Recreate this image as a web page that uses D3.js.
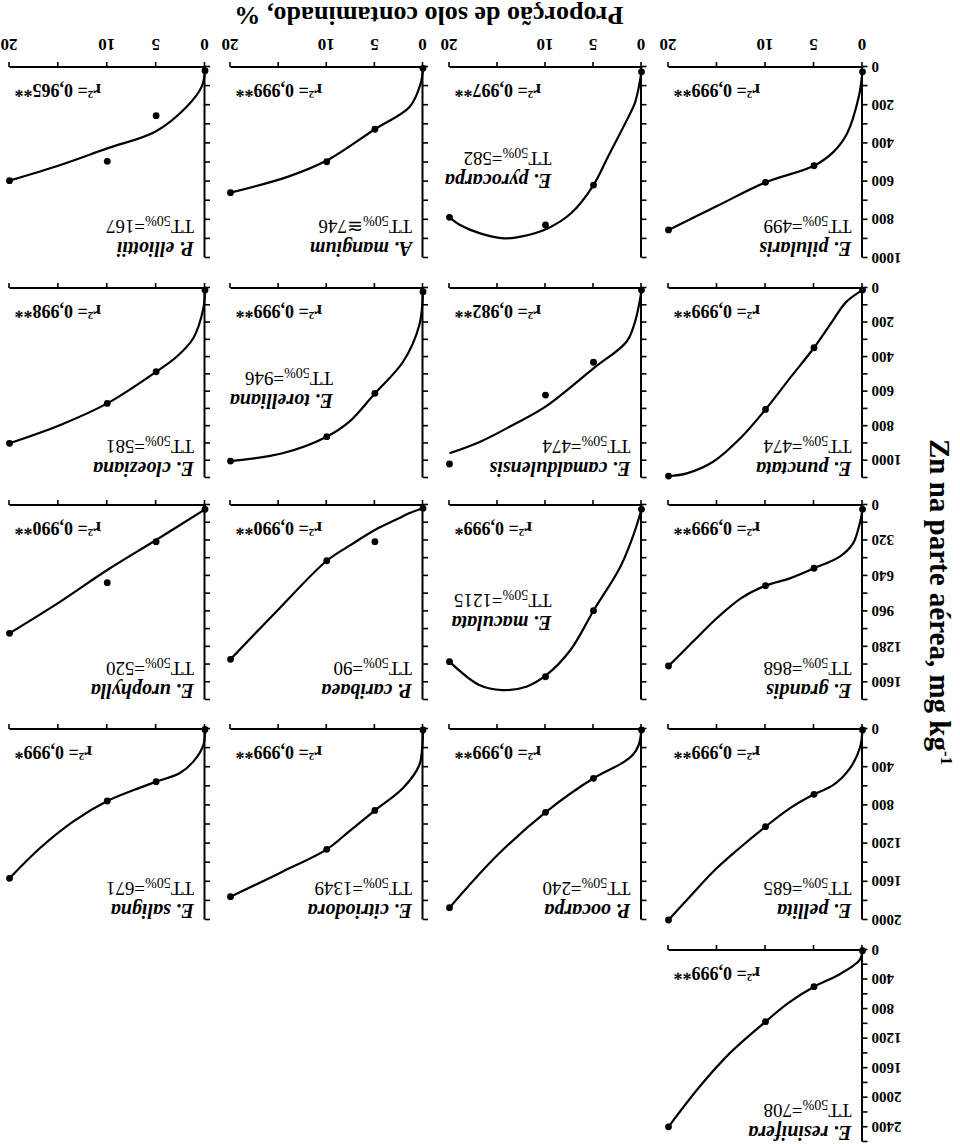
<!DOCTYPE html>
<html>
<head>
<meta charset="utf-8">
<script src="https://cdn.jsdelivr.net/npm/d3@7"></script>
<style>
body{margin:0;background:#fff}
svg{display:block}
.axis path,.axis line{stroke:#000}
.axis path{stroke-width:2}
.axis line{stroke-width:1.6}
text{font-family:"Liberation Serif","Times New Roman",serif;fill:#000}
</style>
</head>
<body>
<script>
// doses of contaminated soil (%) and the x tick labels
let doses = [0, 5, 10, 20]
let xTicks = [0, 5, 10, 15, 20]

let species = ["E. resinifera",
  "E. pellita", "P. oocarpa", "E. citriodora", "E. saligna",
  "E. grandis", "E. maculata", "P. caribaea", "E. urophylla",
  "E. punctata", "E. camaldulensis", "E. torelliana", "E. cloeziana",
  "E. pilularis", "E. pyrocarpa", "A. mangium", "P. elliottii"]

let tt50 = ["=708",
  "=685", "=240", "=1349", "=671",
  "=868", "=1215", "=90", "=520",
  "=474", "=474", "=946", "=581",
  "=499", "=582", "\u2245746", "=167"]

let r2 = ["0,999**",
  "0,999**", "0,999**", "0,999**", "0,999*",
  "0,999**", "0,999*", "0,990**", "0,990**",
  "0,999**", "0,982**", "0,999**", "0,998**",
  "0,999**", "0,997**", "0,999**", "0,965**"]

// Zn in shoots (mg/kg) at the four doses
let zn = [[9, 497, 971, 2394],
  [10, 684, 1023, 2000], [10, 516, 872, 1871], [10, 853, 1260, 1756], [5, 552, 754, 1564],
  [39, 571, 728, 1453], [39, 954, 1550, 1414], [30, 331, 503, 1393], [39, 331, 701, 1158],
  [12, 346, 703, 1089], [12, 430, 620, 1019], [21, 610, 861, 1002], [12, 485, 668, 899],
  [25, 517, 604, 853], [25, 618, 827, 787], [7, 326, 496, 658], [19, 255, 494, 595]]

// fitted curves as [dose, Zn]
let fits = [
  [[0,9],[0.3,136],[2.5,339],[5,497],[7.7,722],[10,971],[13.7,1400],[16.8,1852],[20,2394]],
  [[0,10],[0.28,202],[1.3,412],[3,586],[5,684],[7.5,831],[10,1023],[12.7,1249],[15.4,1494],[17.8,1756],[20,2000]],
  [[0,10],[0.3,170],[0.9,270],[1.9,350],[5,516],[10,872],[15,1320],[20,1871]],
  [[0,10],[0.07,168],[0.38,377],[2.1,621],[5,853],[7.7,1075],[10,1260],[14.6,1494],[20,1756]],
  [[0,5],[0.17,168],[1.2,342],[2.6,464],[5,552],[7.3,639],[10,754],[13.5,970],[16.9,1249],[20,1564]],
  [[0,39],[0.28,165],[0.97,346],[2.35,466],[5,571],[7.5,662],[10,728],[12.5,840],[15,1020],[17.5,1235],[20,1453]],
  [[0,39],[0.78,256],[2.2,557],[5,954],[7.4,1309],[9.9,1534],[12,1640],[14.5,1670],[16.9,1625],[20,1414]],
  [[0,30],[1.45,75],[2.5,120],[5,226],[7.5,360],[10,503],[15,940],[20,1393]],
  [[0,39],[5,316],[10,587],[14.8,872],[20,1158]],
  [[0,12],[1.65,79],[3.36,214],[5,346],[7.5,523],[10,703],[12.6,870],[15.4,1006],[18.1,1073],[20,1089]],
  [[0,12],[0.2,80],[0.7,200],[1.56,311],[5,465],[10,687],[13.4,793],[16.8,890],[20,957]],
  [[0,21],[0.38,214],[2.07,427],[5,610],[7.65,774],[10,861],[14.6,957],[20,1002]],
  [[0,12],[0.17,118],[1.2,291],[2.9,398],[5,485],[10,668],[14.8,793],[20,899]],
  [[0,20],[0.38,155],[1.58,347],[2.96,443],[5,517],[10,604],[15,728],[20,853]],
  [[0,25],[0.3,110],[0.7,190],[1.4,265],[3.49,470],[5,618],[7.34,766],[9.78,845],[12.58,888],[14.3,897],[16.8,871],[18.9,827],[20,787]],
  [[0,7],[0.24,85],[1.38,208],[5,326],[10,490],[14,574],[20,658]],
  [[0,19],[0.34,103],[1.87,208],[5.1,339],[10,426],[14.8,513],[20,595]]]

// y axis of each row: top of scale and tick step
let rowMax = [2600, 2000, 1760, 1100, 1000]
let rowStep = [200, 200, 160, 100, 100]

// where each panel sits (the whole figure is printed upside down)
let panelRow = [0, 1,1,1,1, 2,2,2,2, 3,3,3,3, 4,4,4,4]
let panelCol = [0, 0,1,2,3, 0,1,2,3, 0,1,2,3, 0,1,2,3]
let rowZero = [194, 415, 639, 856, 1077]
let rowTop = [2, 224, 444, 666, 886]
let colLeft = [97.5, 318.5, 537, 755]
let colRight = [291.5, 510.5, 729.5, 950.5]
let midLabel = ["E. pyrocarpa", "E. maculata", "E. torelliana"]

let svg = d3.select("body").append("svg").attr("width", 960).attr("height", 1144)
svg.append("rect").attr("width", 960).attr("height", 1144).attr("fill", "#fff")
let g = svg.append("g").attr("transform", "rotate(180,480,572)")

species.forEach((name, i) => {
  let r = panelRow[i], c = panelCol[i]
  let x = d3.scaleLinear().domain([0, 20]).range([colLeft[c], colRight[c]])
  let y = d3.scaleLinear().domain([0, rowMax[r]]).range([rowZero[r], rowTop[r]])
  let last = r == 4

  let xa = g.append("g").attr("class", "axis")
    .attr("transform", "translate(0," + rowZero[r] + ")")
    .call(d3.axisBottom(x).tickValues(xTicks).tickSize(5).tickSizeOuter(0).tickPadding(11)
      .tickFormat(d => last && doses.includes(d) ? d : ""))
  xa.selectAll("text").style("font-size", "17px").style("font-weight", "bold")

  let ticks = d3.range(0, rowMax[r] + 1, rowStep[r])
  let ya = g.append("g").attr("class", "axis")
    .attr("transform", "translate(" + colLeft[c] + ",0)")
    .call(d3.axisLeft(y).tickValues(ticks).tickSize(5).tickSizeOuter(0).tickPadding(4)
      .tickFormat((d, k) => c == 0 && k % 2 == 0 ? d : ""))
  ya.selectAll("text").style("font-size", "15px").style("font-weight", "bold")
  xa.select(".domain").attr("d", "M" + (colLeft[c] - 1) + ",0H" + colRight[c])

  let line = d3.line().x(d => x(d[0])).y(d => y(d[1])).curve(d3.curveCatmullRom.alpha(0.5))
  g.append("path").attr("d", line(fits[i]))
    .attr("fill", "none").attr("stroke", "#000").attr("stroke-width", 2.2)

  g.selectAll(null).data(zn[i]).enter().append("circle")
    .attr("cx", (d, k) => x(doses[k])).attr("cy", d => y(d)).attr("r", 3.4).attr("fill", "#000")

  let mid = midLabel.includes(name)
  let lx = colLeft[c] + (mid ? 90 : 11)
  let ly = rowTop[r] + (mid ? 84 : 16)
  g.append("text").attr("x", lx).attr("y", ly)
    .style("font-size", "20px").style("font-weight", "bold").style("font-style", "italic")
    .text(name)
  let tt = g.append("text").attr("x", lx).attr("y", ly + 22).style("font-size", "19px")
  tt.append("tspan").text("TT")
  tt.append("tspan").attr("dy", 4).style("font-size", "14px").text("50%")
  tt.append("tspan").attr("dy", -4).text(tt50[i])

  let rt = g.append("text").attr("x", colRight[c] - 5).attr("y", rowZero[r] - 17)
    .attr("text-anchor", "end").style("font-size", "18px").style("font-weight", "bold")
  rt.append("tspan").text("r")
  rt.append("tspan").attr("dy", -7).style("font-size", "11px").text("2")
  rt.append("tspan").attr("dy", 7).text("= " + r2[i])
})

g.append("text").attr("x", 531).attr("y", 1137).attr("text-anchor", "middle")
  .style("font-size", "26px").style("font-weight", "bold")
  .text("Proporção de solo contaminado, %")

let yt = g.append("text").attr("transform", "translate(30,542) rotate(-90)")
  .attr("text-anchor", "middle").style("font-size", "29px").style("font-weight", "bold")
yt.append("tspan").text("Zn na parte aérea, mg kg")
yt.append("tspan").attr("dy", -11).style("font-size", "17px").text("-1")
</script>
</body>
</html>
